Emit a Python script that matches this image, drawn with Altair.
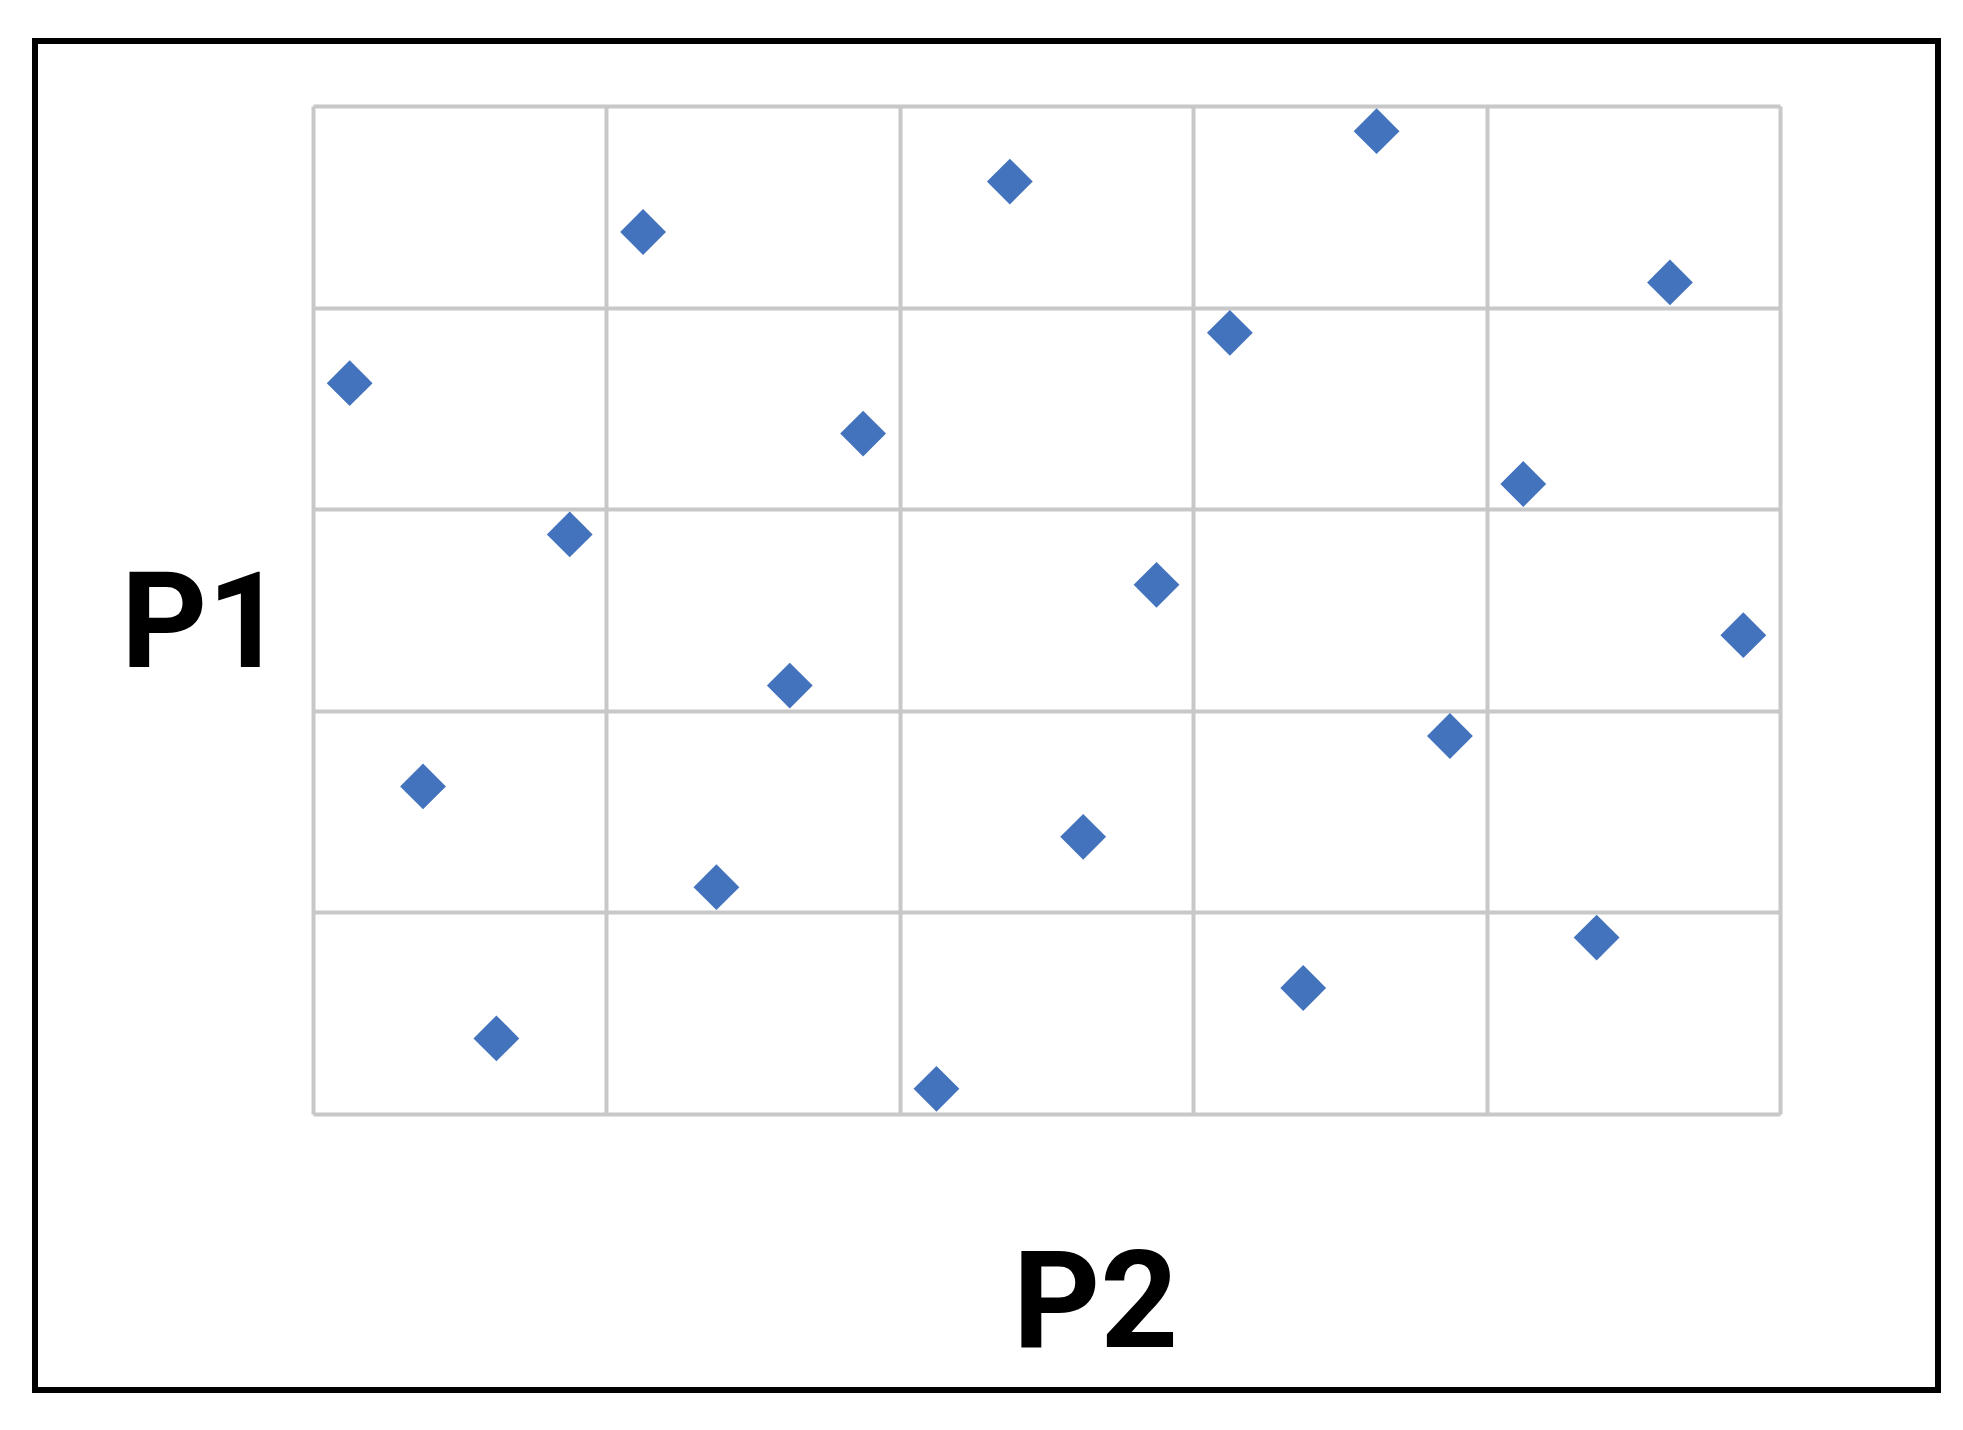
import altair as alt
import pandas as pd

p2_values = [0.025, 0.075, 0.125, 0.175, 0.225, 0.275, 0.325, 0.375, 0.425, 0.475,
             0.525, 0.575, 0.625, 0.675, 0.725, 0.775, 0.825, 0.875, 0.925, 0.975]
p1_values = [0.725, 0.325, 0.075, 0.575, 0.875, 0.225, 0.425, 0.675, 0.025, 0.925,
             0.275, 0.525, 0.775, 0.125, 0.975, 0.375, 0.625, 0.175, 0.825, 0.475]
grid_ticks = [0.0, 0.2, 0.4, 0.6, 0.8, 1.0]

df = pd.DataFrame({"P2": p2_values, "P1": p1_values})

W, H = 1467, 1008

points = alt.Chart(df).mark_point(
    shape="diamond", filled=True, size=2100, color="#4473BE", opacity=1
).encode(
    x=alt.X("P2:Q", scale=alt.Scale(domain=[0, 1], nice=False, zero=False),
            axis=alt.Axis(values=grid_ticks, labels=False, ticks=False, domain=False,
                          grid=True, gridColor="#c8c8c8", gridWidth=4,
                          title="P2", titleFont="Roboto", titleFontWeight="bold",
                          titleFontSize=136, titleColor="#000000",
                          titleAlign="center", titleBaseline="alphabetic",
                          titleX=782, titleY=232)),
    y=alt.Y("P1:Q", scale=alt.Scale(domain=[0, 1], nice=False, zero=False),
            axis=alt.Axis(values=grid_ticks, labels=False, ticks=False, domain=False,
                          grid=True, gridColor="#c8c8c8", gridWidth=4,
                          title="P1", titleAngle=0, titleFont="Roboto",
                          titleFontWeight="bold", titleFontSize=134, titleColor="#000000",
                          titleAlign="center", titleBaseline="alphabetic",
                          titleX=-111, titleY=560)),
)

frame = alt.Chart(pd.DataFrame({"a": [0]})).mark_rect(
    fill=None, stroke="#000000", strokeWidth=6
).encode(
    x=alt.value(-278), x2=alt.value(1625), y=alt.value(-65), y2=alt.value(1284)
)

chart = alt.layer(frame, points).properties(
    width=W, height=H,
    autosize=alt.AutoSizeParams(type="none"),
    padding={"left": 305, "top": 98, "right": 170, "bottom": 310},
    background="#ffffff",
).configure_view(stroke=None)

chart.save("out.html", embed_options={"renderer": "svg", "actions": False})
